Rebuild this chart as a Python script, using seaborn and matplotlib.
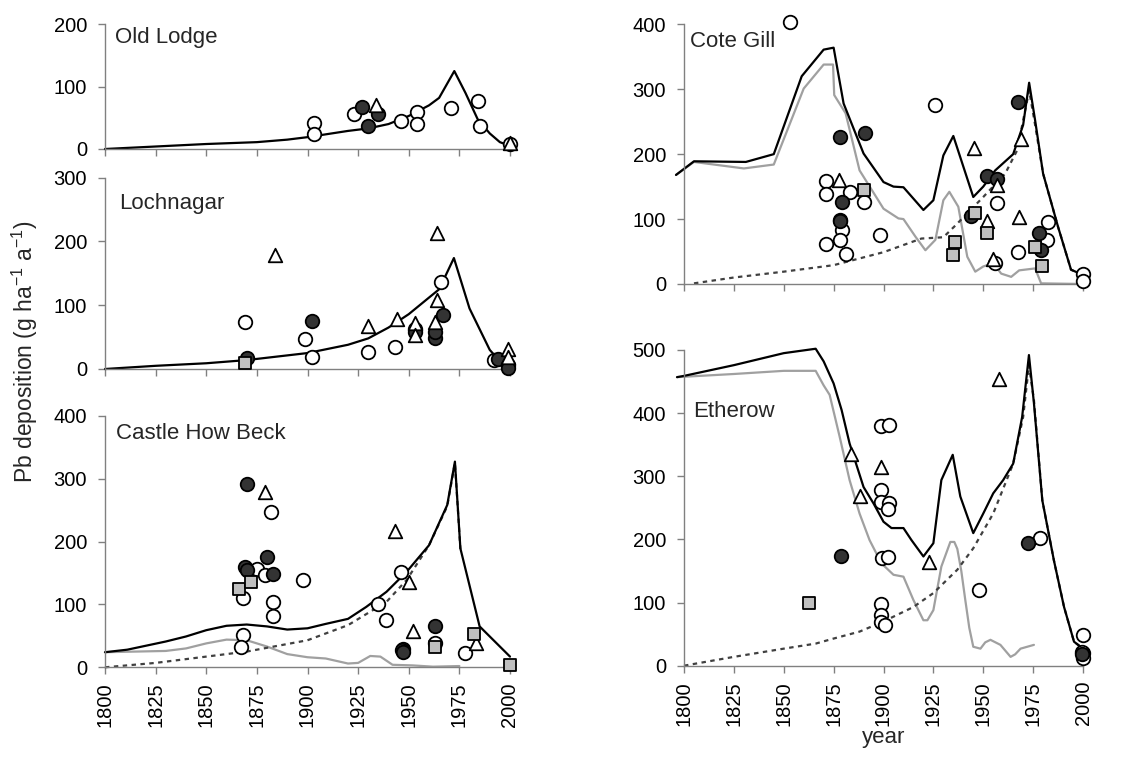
import matplotlib
matplotlib.use("Agg")
import matplotlib.pyplot as plt
import seaborn as sns
import pandas as pd

# ---------------- data ----------------
# Old Lodge
ol_line_year = [1800, 1825, 1850, 1875, 1890, 1900, 1910, 1920, 1930, 1940, 1950, 1960, 1965, 1972.5, 1978, 1984, 1990, 1995, 2000]
ol_line_val = [0, 4, 8, 11, 15, 19, 24, 29, 33, 40, 53, 70, 82, 125, 90, 48, 25, 11, 5]
ol_open_year = [1903, 1903, 1923, 1946, 1954, 1954, 1971, 1984, 1985, 2000]
ol_open_val = [41, 24, 56, 45, 59, 40, 65, 77, 37, 8]
ol_fill_year = [1927, 1930, 1935]
ol_fill_val = [68, 37, 56]
ol_tri_year = [1934, 2000]
ol_tri_val = [70, 9]

# Lochnagar
lo_line_year = [1800, 1825, 1850, 1870, 1900, 1920, 1930, 1940, 1950, 1960, 1965, 1972.3, 1980, 1990, 1995, 2000]
lo_line_val = [0, 5, 9, 14, 25, 38, 48, 65, 86, 112, 125, 174, 95, 30, 12, 2]
lo_open_year = [1869, 1899, 1902, 1930, 1943, 1966, 1992]
lo_open_val = [74, 47, 19, 26, 35, 136, 14]
lo_fill_year = [1870, 1902, 1953, 1953, 1963, 1963, 1967, 1994, 1999, 1999]
lo_fill_val = [18, 76, 62, 58, 48, 58, 85, 15, 6, 2]
lo_tri_year = [1884, 1930, 1944, 1953, 1953, 1964, 1964, 1963, 1999, 1999]
lo_tri_val = [179, 68, 79, 72, 53, 213, 108, 74, 32, 19]
lo_sq_year = [1869]
lo_sq_val = [9]

# Castle How Beck
ch_black_year = [1800, 1811, 1830, 1840, 1850, 1860, 1870, 1880, 1890, 1900, 1909, 1920, 1929, 1939, 1949, 1960, 1969, 1972.8, 1975.5, 1985, 2000]
ch_black_val = [24, 28, 41, 49, 59, 66, 68, 65, 60, 62, 69, 77, 96, 120, 152, 194, 258, 327, 189, 65, 17]
ch_gray_year = [1800, 1830, 1840, 1850, 1860, 1870, 1880, 1890, 1900, 1909, 1920, 1925, 1931, 1936, 1942, 1952, 1962, 1975]
ch_gray_val = [24, 26, 30, 38, 44, 43, 33, 21, 16, 14, 6, 7, 18, 17, 4, 3, 1, 2]
ch_dot_year = [1800, 1825, 1850, 1870, 1900, 1920, 1939, 1949, 1960, 1969, 1972.8, 1975.5]
ch_dot_val = [0, 7, 17, 25, 43, 67, 104, 139, 194, 256, 325, 188]
ch_open_year = [1875, 1879, 1882, 1883, 1883, 1898, 1868, 1868, 1867, 1935, 1939, 1946, 1947, 1963, 1978]
ch_open_val = [156, 147, 247, 104, 81, 139, 110, 51, 33, 100, 75, 151, 29, 39, 23]
ch_fill_year = [1870, 1869, 1870, 1880, 1883, 1946.5, 1947, 1963]
ch_fill_val = [291, 159, 154, 176, 149, 28, 25, 66]
ch_tri_year = [1879, 1943, 1950, 1952, 1983]
ch_tri_val = [279, 216, 136, 57, 38]
ch_sq_year = [1866, 1872, 1963, 1982, 2000]
ch_sq_val = [124, 135, 32, 53, 3]

# Cote Gill
cg_black_year = [1796, 1805, 1831, 1845, 1859, 1870, 1875, 1880, 1890, 1900, 1905, 1910, 1920, 1925, 1930, 1935, 1940, 1945, 1950, 1956, 1965, 1970, 1973, 1976, 1980, 1987.5, 1994, 2000]
cg_black_val = [168, 189, 188, 200, 320, 361, 364, 278, 201, 157, 150, 149, 114, 129, 198, 228, 181, 134, 150, 175, 200, 245, 310, 252, 170, 88, 22, 14]
cg_gray_year = [1796, 1805, 1830, 1845, 1860, 1870, 1874.7, 1875.3, 1881, 1888, 1900, 1907.5, 1910, 1916, 1921, 1926, 1930, 1933, 1937.5, 1942, 1946, 1950, 1955, 1959, 1964, 1968, 1976, 1979, 2000]
cg_gray_val = [168, 188, 178, 184, 301, 338, 338, 291, 263, 175, 116, 101, 100, 73, 52, 68, 129, 142, 119, 42, 19, 27, 32, 16, 11, 21, 24, 1, 0]
cg_dot_year = [1805, 1825, 1850, 1875, 1900, 1919, 1930, 1936, 1950, 1961, 1967, 1973, 1976, 1980, 1987.5, 1994, 2000]
cg_dot_val = [1, 10, 19, 29, 49, 70, 72, 90, 134, 170, 206, 298, 245, 170, 88, 22, 14]
cg_open_year = [1853, 1871, 1871, 1871, 1883, 1878, 1879, 1878, 1881, 1890, 1898, 1926, 1957, 1956, 1967.5, 1982.5, 1982, 2000, 2000]
cg_open_val = [403, 158, 139, 61, 141, 98, 83, 68, 46, 126, 75, 275, 124, 32, 49, 96, 68, 15, 5]
cg_fill_year = [1878, 1890.5, 1879, 1878, 1943.7, 1951.7, 1957, 1967.5, 1978, 1979]
cg_fill_val = [226, 233, 127, 97, 104, 166, 162, 280, 78, 52]
cg_tri_year = [1877.5, 1945.5, 1951.7, 1957, 1955, 1968, 1969]
cg_tri_val = [160, 210, 97, 152, 38, 103, 224]
cg_sq_year = [1890, 1946, 1936, 1935, 1952, 1976, 1979.5]
cg_sq_val = [145, 109, 65, 45, 78, 57, 28]

# Etherow
et_black_year = [1796.5, 1800, 1825, 1850, 1866, 1870, 1875, 1879, 1883, 1890, 1895, 1900, 1904, 1910, 1914, 1920, 1925, 1929, 1934.7, 1938.5, 1945, 1950, 1955, 1960, 1965, 1969.5, 1972.9, 1975.4, 1979.6, 1985.4, 1990.5, 1995.5, 2000]
et_black_val = [457, 459, 476, 495, 502, 482, 447, 405, 352, 283, 257, 228, 218, 218, 199, 173, 194, 294, 334, 268, 210, 241, 273, 294, 320, 394, 492, 416, 262, 167, 93, 38, 27]
et_gray_year = [1796.5, 1825, 1850, 1866, 1870, 1873, 1878, 1883, 1888, 1893, 1899, 1905, 1910, 1915, 1920, 1922, 1925, 1929, 1933.5, 1935.5, 1937, 1939, 1941, 1943, 1945, 1948.6, 1951, 1953.6, 1958.6, 1963.7, 1966, 1968.7, 1975.4]
et_gray_val = [457, 462, 467, 467, 444, 429, 363, 294, 241, 199, 162, 144, 141, 104, 72, 72, 88, 157, 196, 196, 185, 150, 104, 60, 30, 27, 37, 41, 33, 14, 18, 27, 33]
et_dot_year = [1800, 1825, 1850, 1866, 1875, 1888, 1900, 1915, 1925, 1937, 1945, 1955, 1965, 1970, 1972.9, 1975.4, 1979.6, 1985.4, 1990.5, 1995.5, 2000]
et_dot_val = [0, 14, 27, 35, 43, 54, 70, 93, 115, 152, 186, 241, 320, 394, 476, 421, 262, 167, 93, 38, 27]
et_open_year = [1898.7, 1902.8, 1898.7, 1898.8, 1903, 1902.5, 1899, 1902.5, 1898.7, 1898.7, 1898.8, 1900.8, 1947.7, 1978.4, 2000, 2000, 2000, 1999.5]
et_open_val = [379, 381, 278, 260, 258, 248, 170, 172, 97, 80, 70, 64, 120, 202, 49, 20, 12, 22]
et_fill_year = [1878.7, 1972.5, 1999.5]
et_fill_val = [174, 194, 18]
et_tri_year = [1883.8, 1888, 1898.8, 1922.6, 1957.8]
et_tri_val = [335, 268, 314, 165, 454]
et_sq_year = [1862.6]
et_sq_val = [99]

x_ticks = [1800, 1825, 1850, 1875, 1900, 1925, 1950, 1975, 2000]

# ---------------- style ----------------
sns.set_theme(style="ticks")
plt.rcParams['font.family'] = ['Liberation Sans', 'DejaVu Sans']
plt.rcParams['mathtext.default'] = 'regular'

FS = 14.5
TFS = 16
AXC = '#808080'

fig = plt.figure(figsize=(11.44, 7.58), dpi=100)
W, H = 1144, 758


def make_ax(left, top, right, bottom):
    return fig.add_axes([left / W, 1 - bottom / H, (right - left) / W, (bottom - top) / H])


panels = [
    dict(name="Old Lodge", box=(105, 24.3, 510, 149), ymax=200, ystep=100, lab=(10, 3), xlabels=False,
         lines=[(ol_line_year, ol_line_val, 'black', '-')],
         open=(ol_open_year, ol_open_val), fill=(ol_fill_year, ol_fill_val),
         tri=(ol_tri_year, ol_tri_val), sq=None),
    dict(name="Lochnagar", box=(105, 177.7, 510, 369), ymax=300, ystep=100, lab=(14, 15), xlabels=False,
         lines=[(lo_line_year, lo_line_val, 'black', '-')],
         open=(lo_open_year, lo_open_val), fill=(lo_fill_year, lo_fill_val),
         tri=(lo_tri_year, lo_tri_val), sq=(lo_sq_year, lo_sq_val)),
    dict(name="Castle How Beck", box=(105, 415.7, 510, 667.3), ymax=400, ystep=100, lab=(11, 7), xlabels=True,
         lines=[(ch_gray_year, ch_gray_val, '#a0a0a0', '-'), (ch_dot_year, ch_dot_val, '#404040', ':'),
                (ch_black_year, ch_black_val, 'black', '-')],
         open=(ch_open_year, ch_open_val), fill=(ch_fill_year, ch_fill_val),
         tri=(ch_tri_year, ch_tri_val), sq=(ch_sq_year, ch_sq_val)),
    dict(name="Cote Gill", box=(684, 24.3, 1083, 284), ymax=400, ystep=100, lab=(6, 7), xlabels=False,
         lines=[(cg_gray_year, cg_gray_val, '#a0a0a0', '-'), (cg_dot_year, cg_dot_val, '#404040', ':'),
                (cg_black_year, cg_black_val, 'black', '-')],
         open=(cg_open_year, cg_open_val), fill=(cg_fill_year, cg_fill_val),
         tri=(cg_tri_year, cg_tri_val), sq=(cg_sq_year, cg_sq_val)),
    dict(name="Etherow", box=(684, 350, 1083, 665.7), ymax=500, ystep=100, lab=(9, 51), xlabels=True,
         lines=[(et_gray_year, et_gray_val, '#a0a0a0', '-'), (et_dot_year, et_dot_val, '#404040', ':'),
                (et_black_year, et_black_val, 'black', '-')],
         open=(et_open_year, et_open_val), fill=(et_fill_year, et_fill_val),
         tri=(et_tri_year, et_tri_val), sq=(et_sq_year, et_sq_val)),
]

for p in panels:
    ax = make_ax(*p['box'])
    for xs, ys, col, ls in p['lines']:
        df = pd.DataFrame({'year': xs, 'val': ys})
        sns.lineplot(data=df, x='year', y='val', ax=ax, color=col, lw=1.6, estimator=None, sort=False)
        ln = ax.lines[-1]
        if ls == ':':
            ln.set_dashes((2, 2))
        ln.set_clip_on(False)

    def scat(data, marker, fc, s):
        if data is None:
            return
        df = pd.DataFrame({'year': data[0], 'val': data[1]})
        sns.scatterplot(data=df, x='year', y='val', ax=ax, marker=marker, s=s,
                        facecolor=fc, edgecolor='black', linewidth=1.3, clip_on=False, zorder=3)

    scat(p['open'], 'o', 'white', 95)
    scat(p['fill'], 'o', '#333333', 95)
    scat(p['tri'], '^', 'white', 95)
    scat(p['sq'], 's', '#c0c0c0', 80)

    ax.set_xlim(1800, 2000)
    ax.set_ylim(0, p['ymax'])
    ax.set_xticks(x_ticks)
    ax.set_yticks(list(range(0, p['ymax'] + 1, p['ystep'])))
    ax.tick_params(axis='both', direction='out', length=5, width=1, color=AXC, labelsize=FS,
                   labelcolor='black')
    ax.tick_params(axis='y', pad=8)
    ax.tick_params(axis='x', pad=6)
    if p['xlabels']:
        ax.set_xticklabels([str(t) for t in x_ticks], rotation=90)
    else:
        ax.set_xticklabels([])
    for side in ['top', 'right']:
        ax.spines[side].set_visible(False)
    for side in ['left', 'bottom']:
        ax.spines[side].set_color(AXC)
        ax.spines[side].set_linewidth(1)
    ax.set_xlabel('')
    ax.set_ylabel('')
    ax.patch.set_alpha(0)
    dx, dy = p['lab']
    ax.annotate(p['name'], xy=(0, 1), xycoords='axes fraction', xytext=(dx * 0.72, -dy * 0.72),
                textcoords='offset points', ha='left', va='top', fontsize=TFS)
    if p['name'] == 'Etherow':
        ax.set_xlabel('year', fontsize=TFS, labelpad=1)

fig.text(25 / W, 1 - 352 / H, 'Pb deposition (g ha$^{-1}$ a$^{-1}$)', rotation=90,
         ha='center', va='center', fontsize=16.5)

fig.savefig('out.png', dpi=100)
